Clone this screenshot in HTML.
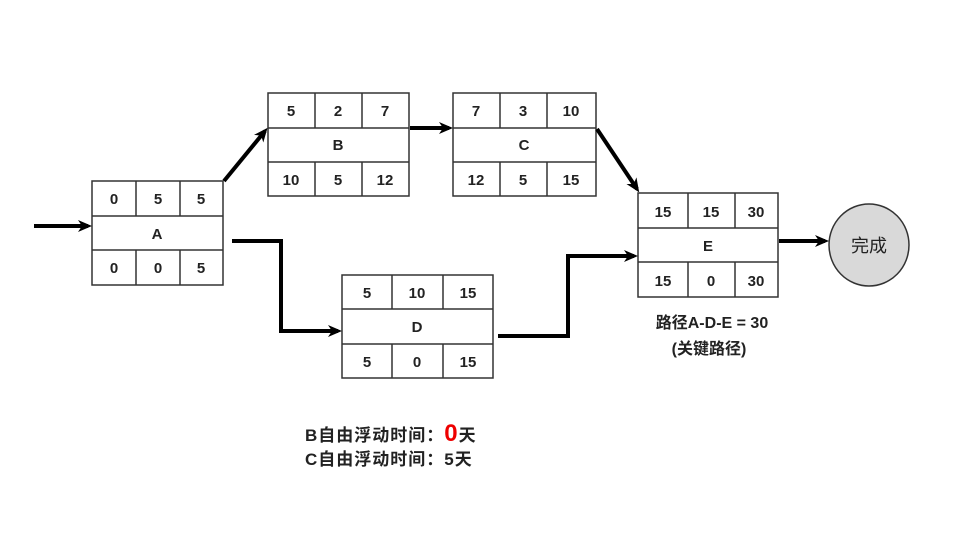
<!DOCTYPE html>
<html><head><meta charset="utf-8"><style>
body{margin:0;background:#fff}
svg text{font-family:"Liberation Sans","Noto Sans CJK SC",sans-serif;font-weight:bold;font-size:15px;fill:#222}
</style></head><body>
<svg width="970" height="540" viewBox="0 0 970 540" xmlns="http://www.w3.org/2000/svg">
<defs><marker id="ah" markerWidth="14" markerHeight="14" refX="10" refY="7" orient="auto" markerUnits="userSpaceOnUse" viewBox="0 0 14 14"><path d="M0,1 L14,7 L0,13 L4,7 Z" fill="#000"/></marker></defs>
<g fill="#fff" stroke="#333" stroke-width="1.5">
<rect x="92" y="181" width="131" height="104"/><line x1="92" y1="216" x2="223" y2="216"/><line x1="92" y1="250" x2="223" y2="250"/>
<line x1="136" y1="181" x2="136" y2="216"/><line x1="180" y1="181" x2="180" y2="216"/><line x1="136" y1="250" x2="136" y2="285"/><line x1="180" y1="250" x2="180" y2="285"/>
<rect x="268" y="93" width="141" height="103"/><line x1="268" y1="128" x2="409" y2="128"/><line x1="268" y1="162" x2="409" y2="162"/>
<line x1="315" y1="93" x2="315" y2="128"/><line x1="362" y1="93" x2="362" y2="128"/><line x1="315" y1="162" x2="315" y2="196"/><line x1="362" y1="162" x2="362" y2="196"/>
<rect x="453" y="93" width="143" height="103"/><line x1="453" y1="128" x2="596" y2="128"/><line x1="453" y1="162" x2="596" y2="162"/>
<line x1="500" y1="93" x2="500" y2="128"/><line x1="547" y1="93" x2="547" y2="128"/><line x1="500" y1="162" x2="500" y2="196"/><line x1="547" y1="162" x2="547" y2="196"/>
<rect x="342" y="275" width="151" height="103"/><line x1="342" y1="309" x2="493" y2="309"/><line x1="342" y1="344" x2="493" y2="344"/>
<line x1="392" y1="275" x2="392" y2="309"/><line x1="443" y1="275" x2="443" y2="309"/><line x1="392" y1="344" x2="392" y2="378"/><line x1="443" y1="344" x2="443" y2="378"/>
<rect x="638" y="193" width="140" height="104"/><line x1="638" y1="228" x2="778" y2="228"/><line x1="638" y1="262" x2="778" y2="262"/>
<line x1="688" y1="193" x2="688" y2="228"/><line x1="735" y1="193" x2="735" y2="228"/><line x1="688" y1="262" x2="688" y2="297"/><line x1="735" y1="262" x2="735" y2="297"/>
</g>
<ellipse cx="869" cy="245" rx="40" ry="41" fill="#d9d9d9" stroke="#333" stroke-width="1.5"/>
<g stroke="#000" stroke-width="4" fill="none" marker-end="url(#ah)">
<line x1="34" y1="226" x2="88" y2="226"/>
<line x1="224" y1="181" x2="265" y2="131"/>
<line x1="410" y1="128" x2="449" y2="128"/>
<line x1="597" y1="129" x2="637" y2="189"/>
<polyline points="232,241 281,241 281,331 338,331"/>
<polyline points="498,336 568,336 568,256 634,256"/>
<line x1="779" y1="241" x2="825" y2="241"/>
</g>
<g text-anchor="middle">
<text x="114" y="204">0</text><text x="158" y="204">5</text><text x="201" y="204">5</text>
<text x="157" y="239">A</text>
<text x="114" y="273">0</text><text x="158" y="273">0</text><text x="201" y="273">5</text>
<text x="291" y="116">5</text><text x="338" y="116">2</text><text x="385" y="116">7</text>
<text x="338" y="150">B</text>
<text x="291" y="185">10</text><text x="338" y="185">5</text><text x="385" y="185">12</text>
<text x="476" y="116">7</text><text x="523" y="116">3</text><text x="571" y="116">10</text>
<text x="524" y="150">C</text>
<text x="476" y="185">12</text><text x="523" y="185">5</text><text x="571" y="185">15</text>
<text x="367" y="298">5</text><text x="417" y="298">10</text><text x="468" y="298">15</text>
<text x="417" y="332">D</text>
<text x="367" y="367">5</text><text x="417" y="367">0</text><text x="468" y="367">15</text>
<text x="663" y="217">15</text><text x="711" y="217">15</text><text x="756" y="217">30</text>
<text x="708" y="251">E</text>
<text x="663" y="286">15</text><text x="711" y="286">0</text><text x="756" y="286">30</text>
<text x="869" y="252" style="font-size:18px;font-weight:normal">完成</text>
<text x="712" y="328" style="font-size:16px">路径A-D-E = 30</text>
<text x="709" y="354" style="font-size:16px">(关键路径)</text>
</g>
<text x="305" y="441" style="font-size:17px;letter-spacing:1px">B自由浮动时间：<tspan fill="#e00" style="font-size:24px">0</tspan>天</text>
<text x="305" y="465" style="font-size:17px;letter-spacing:1px">C自由浮动时间：5天</text>
</svg>
</body></html>
